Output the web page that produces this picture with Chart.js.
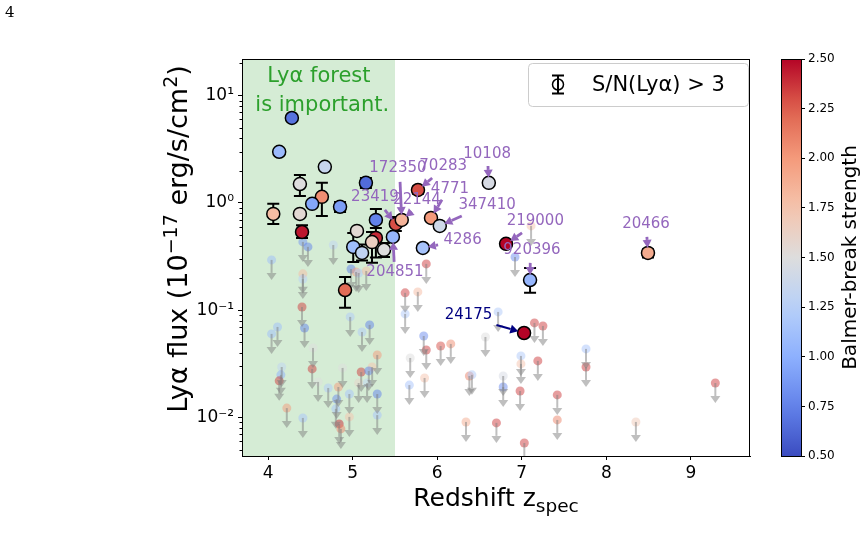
<!DOCTYPE html>
<html>
<head>
<meta charset="utf-8">
<script src="https://cdn.jsdelivr.net/npm/chart.js@4.4.1/dist/chart.umd.min.js"></script>
<style>
    body { margin: 0; background: #fff; }
    #wrap { position: relative; width: 868px; height: 548px; }
    #pageNum { position: absolute; left: 5px; top: 3px; font-family: "DejaVu Serif", "Liberation Serif", serif; font-size: 15px; }
</style>
</head>
<body>
<div id="wrap">
    <div id="pageNum">4</div>
    <canvas id="chartLya" width="868" height="548"></canvas>
</div>
<script>
// detections (S/N > 3)
const detZ = [4.28, 4.13, 4.67, 4.375, 4.635, 4.52, 4.85, 4.06, 4.375, 4.40, 5.156, 5.274, 5.05, 5.274, 5.006, 5.11, 5.228, 5.37, 5.475, 5.51, 5.58, 4.909, 5.772, 5.926, 6.03, 6.61, 5.83, 6.814, 7.098, 8.493, 7.027];
const detFlux = [6.2, 3.0, 2.17, 1.50, 1.14, 0.98, 0.92, 0.79, 0.79, 0.536, 1.54, 0.694, 0.548, 0.472, 0.389, 0.342, 0.431, 0.365, 0.482, 0.637, 0.694, 0.154, 1.32, 0.725, 0.61, 1.54, 0.38, 0.415, 0.191, 0.342, 0.0612];
const detBB = [0.68, 1.08, 1.35, 1.5, 2.05, 0.95, 0.9, 1.8, 1.55, 2.45, 0.65, 0.75, 1.55, 2.4, 1.1, 1.3, 1.65, 1.5, 1.05, 2.3, 1.85, 2.2, 2.3, 2.0, 1.4, 1.45, 1.15, 2.5, 1.05, 1.9, 2.5];
const detErrLo = [null, null, null, 1.16, 0.756, null, 0.824, 0.637, null, 0.47, 1.38, 0.585, null, 0.31, 0.281, 0.29, 0.276, 0.313, null, 0.548, null, 0.105, 1.22, null, null, null, null, null, 0.145, 0.31, null];
const detErrHi = [null, null, null, 1.82, 1.54, null, 1.02, 0.981, null, 0.62, 1.71, 0.879, null, 0.70, 0.525, 0.41, 0.536, 0.423, null, 0.74, null, 0.204, 1.42, null, null, null, null, null, 0.247, 0.37, null];

// upper limits
const limZ = [4.04, 4.41, 4.47, 4.77, 4.41, 4.41, 4.98, 5.04, 5.07, 5.16,
    4.40, 4.97, 4.11, 4.04, 4.43, 5.11, 5.20, 4.53, 5.29, 4.16,
    4.15, 4.13, 4.52, 4.88, 5.10, 5.23, 5.19, 4.59, 4.71, 4.83,
    5.07, 5.17, 4.81, 4.96, 5.29, 4.22, 4.41, 4.80, 4.96, 5.29,
    4.84, 4.86, 5.87, 5.62, 5.77, 5.62, 5.84, 5.87, 6.04, 6.16,
    6.57, 6.72, 5.68, 5.67, 5.85, 6.38, 6.41, 6.34, 6.70, 6.78,
    6.78, 6.99, 6.99, 6.98, 7.15, 7.25, 7.19, 7.42, 7.42, 7.03,
    6.92, 7.11, 7.76, 7.76, 8.35, 9.29];
const limFlux = [0.294, 0.433, 0.389, 0.405, 0.218, 0.195, 0.242, 0.227, 0.222, 0.232,
    0.107, 0.0864, 0.0697, 0.060, 0.0682, 0.0626, 0.0728, 0.0444, 0.0382, 0.0295,
    0.0249, 0.0219, 0.0283, 0.0289, 0.0265, 0.0295, 0.0271, 0.0214, 0.0188, 0.0192,
    0.0209, 0.0209, 0.0148, 0.0165, 0.0165, 0.0122, 0.00987, 0.012, 0.0101, 0.0105,
    0.00868, 0.0078, 0.27, 0.145, 0.148, 0.0922, 0.0574, 0.0425, 0.0463, 0.0484,
    0.0562, 0.0962, 0.0358, 0.020, 0.0233, 0.0243, 0.0249, 0.00906, 0.00888, 0.0243,
    0.0192, 0.0374, 0.0315, 0.0176, 0.076, 0.0712, 0.0336, 0.0162, 0.00946, 0.00577,
    0.313, 0.61, 0.0435, 0.0295, 0.00906, 0.0209];
const limBB = [1.1, 0.85, 0.75, 1.3, 1.8, 1.25, 0.75, 2.0, 1.2, 1.8,
    2.35, 1.2, 1.1, 1.1, 0.75, 1.2, 0.75, 1.5, 2.0, 1.3,
    1.0, 2.35, 2.35, 1.5, 2.35, 1.75, 0.75, 1.5, 1.2, 2.0,
    1.6, 1.3, 0.8, 1.15, 0.75, 2.0, 1.15, 1.15, 1.75, 1.15,
    2.4, 2.1, 2.35, 2.35, 1.8, 1.2, 0.8, 2.35, 2.3, 2.05,
    1.5, 1.2, 1.5, 1.15, 1.75, 2.1, 1.2, 1.9, 2.35, 1.45,
    0.8, 1.2, 1.75, 2.35, 2.35, 2.35, 2.35, 2.35, 2.1, 2.35,
    0.8, 1.75, 1.15, 2.35, 1.7, 2.35];

// axes
const xTicks = [4, 5, 6, 7, 8, 9];
const yTicks = [0.01, 0.1, 1, 10];
const cbarTicks = [0.5, 0.75, 1.0, 1.25, 1.5, 1.75, 2.0, 2.25, 2.5];
const forestEdge = 5.5;

// labelled objects: text position and arrow tail in data coordinates
const annLabels = ["10108", "70283", "172350", "4771", "23419", "22144", "347410", "4286", "219000", "920396", "20466", "204851", "24175"];
const annTarget = [25, 22, 20, 23, 19, 20, 24, 26, 27, 28, 29, 18, 30];
const annTextZ = [6.59, 6.07, 5.535, 6.15, 5.263, 5.76, 6.59, 6.30, 7.16, 7.12, 8.47, 5.50, 6.37];
const annTextF = [2.87, 2.21, 2.12, 1.35, 1.14, 1.07, 0.958, 0.452, 0.679, 0.364, 0.637, 0.227, 0.090];
const annTailZ = [6.60, 5.94, 5.56, 6.056, 5.38, 5.68, 6.29, 6.01, 7.003, 7.10, 8.48, 5.49, 6.70];
const annTailF = [2.21, 1.71, 1.57, 1.07, 0.86, 0.807, 0.756, 0.406, 0.525, 0.276, 0.482, 0.282, 0.0728];

const FONT = "'DejaVu Sans', sans-serif";

// matplotlib coolwarm, sampled
const cwStops = [[59,76,192],[98,130,234],[141,176,254],[184,208,249],[221,221,221],[245,196,173],[244,154,123],[222,96,77],[180,4,38]];
function coolwarm(v, alpha) {
    let t = (v - 0.5) / 2.0;
    t = Math.max(0, Math.min(1, t)) * (cwStops.length - 1);
    const i = Math.min(Math.floor(t), cwStops.length - 2);
    const f = t - i;
    const c = cwStops[i].map((a, k) => Math.round(a + (cwStops[i + 1][k] - a) * f));
    return `rgba(${c[0]},${c[1]},${c[2]},${alpha === undefined ? 1 : alpha})`;
}

function supLabel(v) {
    const sup = { "-": "\u207B", "0": "\u2070", "1": "\u00B9", "2": "\u00B2", "3": "\u00B3", "4": "\u2074", "5": "\u2075", "6": "\u2076", "7": "\u2077", "8": "\u2078", "9": "\u2079" };
    const e = String(Math.round(Math.log10(v)));
    return "10" + e.split("").map(c => sup[c]).join("");
}

function drawArrow(ctx, x1, y1, x2, y2, color, lw, headLen, headW) {
    const ang = Math.atan2(y2 - y1, x2 - x1);
    const bx = x2 - headLen * Math.cos(ang), by = y2 - headLen * Math.sin(ang);
    ctx.strokeStyle = color;
    ctx.fillStyle = color;
    ctx.lineWidth = lw;
    ctx.beginPath();
    ctx.moveTo(x1, y1);
    ctx.lineTo(bx, by);
    ctx.stroke();
    ctx.beginPath();
    ctx.moveTo(x2, y2);
    ctx.lineTo(bx + headW * Math.sin(ang), by - headW * Math.cos(ang));
    ctx.lineTo(bx - headW * Math.sin(ang), by + headW * Math.cos(ang));
    ctx.closePath();
    ctx.fill();
}

// text made of [string, isSuperscript] parts, mathtext-like
function drawRich(ctx, parts, cx, cy, size) {
    const small = Math.round(size * 0.7);
    let total = 0;
    parts.forEach(p => {
        ctx.font = (p[1] ? small : size) + "px " + FONT;
        total += ctx.measureText(p[0]).width;
    });
    let xx = cx - total / 2;
    ctx.textAlign = "left";
    ctx.textBaseline = "alphabetic";
    parts.forEach(p => {
        ctx.font = (p[1] ? small : size) + "px " + FONT;
        ctx.fillText(p[0], xx, cy + (p[1] ? -size * 0.36 : 0));
        xx += ctx.measureText(p[0]).width;
    });
}

const lyaPlugin = {
    id: "lyaExtras",
    beforeDatasetsDraw(chart) {
        const { ctx, chartArea: a, scales: { x, y } } = chart;
        ctx.save();
        // Lya forest region
        ctx.fillStyle = "rgba(44,160,44,0.2)";
        ctx.fillRect(a.left, a.top, x.getPixelForValue(forestEdge) - a.left, a.bottom - a.top);
        ctx.fillStyle = "#2ca02c";
        ctx.font = "21px " + FONT;
        ctx.textAlign = "center";
        ctx.textBaseline = "middle";
        const tx = x.getPixelForValue(4.6), ty = y.getPixelForValue(15);
        ctx.fillText("Ly\u03B1 forest", tx, ty);
        ctx.fillText(" is important.", tx, ty + 29);
        ctx.restore();
    },
    beforeDatasetDraw(chart, args) {
        if (args.index !== 0) return;
        const { ctx, scales: { x, y } } = chart;
        ctx.save();
        ctx.strokeStyle = "#000";
        ctx.lineWidth = 2;
        detZ.forEach((z, i) => {
            if (detErrLo[i] === null) return;
            const px = x.getPixelForValue(z);
            const y1 = y.getPixelForValue(detErrLo[i]);
            const y2 = y.getPixelForValue(detErrHi[i]);
            ctx.beginPath();
            ctx.moveTo(px, y1); ctx.lineTo(px, y2);
            ctx.moveTo(px - 6, y1); ctx.lineTo(px + 6, y1);
            ctx.moveTo(px - 6, y2); ctx.lineTo(px + 6, y2);
            ctx.stroke();
        });
        ctx.restore();
    },
    afterDatasetDraw(chart, args) {
        if (args.index !== 1) return;
        const { ctx, chartArea: a, scales: { x, y } } = chart;
        ctx.save();
        ctx.beginPath();
        ctx.rect(a.left, a.top, a.right - a.left, a.bottom - a.top);
        ctx.clip();
        limZ.forEach((z, i) => {
            const px = x.getPixelForValue(z);
            const py = y.getPixelForValue(limFlux[i]);
            drawArrow(ctx, px, py, px, py + 20, "rgba(128,128,128,0.5)", 2, 7, 5);
        });
        ctx.restore();
    },
    afterDatasetsDraw(chart) {
        const { ctx, chartArea: a, scales: { x, y, cbar } } = chart;
        ctx.save();

        // labels with arrows
        ctx.textAlign = "center";
        ctx.textBaseline = "middle";
        annLabels.forEach((lab, i) => {
            const col = lab === "24175" ? "#000080" : "#9467bd";
            const t = annTarget[i];
            const x1 = x.getPixelForValue(annTailZ[i]), y1 = y.getPixelForValue(annTailF[i]);
            const px = x.getPixelForValue(detZ[t]), py = y.getPixelForValue(detFlux[t]);
            const d = Math.hypot(px - x1, py - y1);
            const shrink = lab === "24175" ? 6 : 5;
            const x2 = px - (px - x1) / d * shrink, y2 = py - (py - y1) / d * shrink;
            drawArrow(ctx, x1, y1, x2, y2, col, lab === "24175" ? 2 : 2.8, 8, 4.5);
            ctx.fillStyle = col;
            ctx.font = "15px " + FONT;
            ctx.textAlign = "center";
            ctx.textBaseline = "middle";
            ctx.fillText(lab, x.getPixelForValue(annTextZ[i]), y.getPixelForValue(annTextF[i]));
        });

        // frame
        ctx.strokeStyle = "#000";
        ctx.lineWidth = 1;
        ctx.strokeRect(a.left + 0.5, a.top + 0.5, a.right - a.left - 1, a.bottom - a.top);

        // minor ticks on log axis
        ctx.beginPath();
        for (let e = -3; e <= 1; e++) {
            for (let m = 2; m <= 9; m++) {
                const v = m * Math.pow(10, e);
                if (v < y.min || v > y.max) continue;
                const py = Math.round(y.getPixelForValue(v)) + 0.5;
                ctx.moveTo(a.left, py);
                ctx.lineTo(a.left - 2.5, py);
            }
        }
        ctx.stroke();

        // legend
        const bx = a.right - 222, by = a.top + 4, bw = 220, bh = 43;
        ctx.fillStyle = "rgba(255,255,255,0.85)";
        ctx.strokeStyle = "#cccccc";
        ctx.beginPath();
        ctx.roundRect(bx + 0.5, by + 0.5, bw, bh, 4);
        ctx.fill();
        ctx.stroke();
        const mx = bx + 30, my = by + bh / 2;
        ctx.strokeStyle = "#000";
        ctx.lineWidth = 2;
        ctx.beginPath();
        ctx.moveTo(mx, my - 9); ctx.lineTo(mx, my + 9);
        ctx.moveTo(mx - 6, my - 9); ctx.lineTo(mx + 6, my - 9);
        ctx.moveTo(mx - 6, my + 9); ctx.lineTo(mx + 6, my + 9);
        ctx.stroke();
        ctx.lineWidth = 1.5;
        ctx.beginPath();
        ctx.arc(mx, my, 5.5, 0, Math.PI * 2);
        ctx.stroke();
        ctx.fillStyle = "#000";
        ctx.font = "21px " + FONT;
        ctx.textAlign = "left";
        ctx.textBaseline = "middle";
        ctx.fillText("S/N(Ly\u03B1) > 3", bx + 64, my + 1);

        // colour bar
        const cx0 = cbar.left - 20, cTop = cbar.top, cBot = cbar.bottom;
        const grad = ctx.createLinearGradient(0, cBot, 0, cTop);
        for (let k = 0; k <= 20; k++) grad.addColorStop(k / 20, coolwarm(0.5 + 2 * k / 20));
        ctx.fillStyle = grad;
        ctx.fillRect(cx0, cTop, 20, cBot - cTop);
        ctx.strokeStyle = "#000";
        ctx.lineWidth = 1;
        ctx.strokeRect(cx0 + 0.5, cTop + 0.5, 20, cBot - cTop);

        // axis titles
        ctx.fillStyle = "#000";
        ctx.textBaseline = "alphabetic";
        const t1 = "Redshift z";
        ctx.font = "25px " + FONT;
        const w1 = ctx.measureText(t1).width;
        ctx.font = "18.5px " + FONT;
        const w2 = ctx.measureText("spec").width;
        const xc = (a.left + a.right) / 2;
        ctx.textAlign = "left";
        ctx.font = "25px " + FONT;
        ctx.fillText(t1, xc - (w1 + w2) / 2, 506);
        ctx.font = "18.5px " + FONT;
        ctx.fillText("spec", xc - (w1 + w2) / 2 + w1, 512);

        ctx.save();
        ctx.translate(187, 239);
        ctx.rotate(-Math.PI / 2);
        drawRich(ctx, [["Ly\u03B1 flux (10", false], ["\u221217", true], [" erg/s/cm", false], ["2", true], [")", false]], 0, 0, 27);
        ctx.restore();

        ctx.save();
        ctx.translate(851, (cTop + cBot) / 2);
        ctx.rotate(-Math.PI / 2);
        ctx.textAlign = "center";
        ctx.textBaseline = "middle";
        ctx.font = "20px " + FONT;
        ctx.fillText("Balmer-break strength", 0, 0);
        ctx.restore();

        ctx.restore();
    }
};

const ctx = document.getElementById("chartLya").getContext("2d");
new Chart(ctx, {
    type: "scatter",
    data: {
        datasets: [
            {
                label: "S/N(Ly\u03B1) > 3",
                data: detZ.map((z, i) => ({ x: z, y: detFlux[i] })),
                pointRadius: 6.5,
                pointBorderWidth: 1.5,
                pointBorderColor: "#000",
                pointBackgroundColor: c => coolwarm(detBB[c.dataIndex])
            },
            {
                label: "upper limits",
                data: limZ.map((z, i) => ({ x: z, y: limFlux[i] })),
                pointRadius: 4.5,
                pointBorderWidth: 0,
                pointBackgroundColor: c => coolwarm(limBB[c.dataIndex], 0.5)
            }
        ]
    },
    options: {
        responsive: false,
        devicePixelRatio: 1,
        animation: false,
        events: [],
        layout: { padding: { top: 59, left: 0, right: 0, bottom: 0 } },
        plugins: { legend: { display: false }, tooltip: { enabled: false } },
        scales: {
            x: {
                type: "linear",
                min: 3.69, max: 9.70,
                bounds: "data",
                afterBuildTicks: s => { s.ticks = xTicks.map(v => ({ value: v })); },
                afterFit: s => { s.height = 92; },
                grid: { drawOnChartArea: false, drawTicks: true, tickLength: 4, tickColor: "#000" },
                border: { color: "#000", width: 1 },
                ticks: { color: "#000", font: { family: FONT, size: 17 }, padding: 3, maxRotation: 0 }
            },
            y: {
                type: "logarithmic",
                min: 0.00436, max: 22,
                bounds: "data",
                afterBuildTicks: s => { s.ticks = yTicks.map(v => ({ value: v })); },
                afterFit: s => { s.width = 242; },
                grid: { drawOnChartArea: false, drawTicks: true, tickLength: 4, tickColor: "#000" },
                border: { color: "#000", width: 1 },
                ticks: { color: "#000", font: { family: FONT, size: 17 }, padding: 4, callback: v => supLabel(v) }
            },
            gap: {
                type: "linear",
                position: "right",
                display: true,
                afterFit: s => { s.width = 51; },
                grid: { display: false },
                border: { display: false },
                ticks: { display: false }
            },
            cbar: {
                type: "linear",
                position: "right",
                min: 0.5, max: 2.5,
                bounds: "data",
                afterBuildTicks: s => { s.ticks = cbarTicks.map(v => ({ value: v })); },
                afterFit: s => { s.width = 67; },
                grid: { drawOnChartArea: false, drawTicks: true, tickLength: 4, tickColor: "#000" },
                border: { display: false },
                ticks: { color: "#000", font: { family: FONT, size: 12 }, padding: 3, callback: v => v.toFixed(2) }
            }
        }
    },
    plugins: [lyaPlugin]
});
</script>
</body>
</html>
